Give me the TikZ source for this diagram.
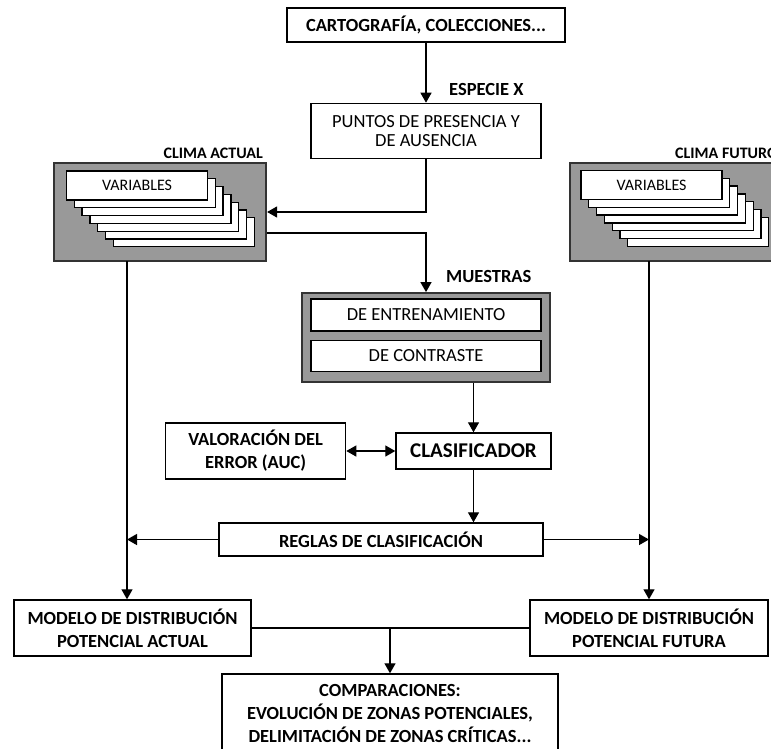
\documentclass[tikz,border=0pt]{standalone}
\usepackage{fontspec}
\setmainfont{Carlito}
\usepackage{xcolor}
\definecolor{grisCaja}{rgb}{0.6,0.6,0.6}
\definecolor{bordeCaja}{rgb}{0.2,0.2,0.2}
\usepackage{tikz}
\usetikzlibrary{arrows.meta}
\usetikzlibrary{positioning}
\tikzstyle{GRIS} = [fill=grisCaja, draw=bordeCaja, line width=2.2pt]
\tikzstyle{HOJA} = [fill=white, draw=black, line width=1.3pt, minimum width=141pt, minimum height=29pt]

\begin{document}
\begin{tikzpicture}[
            x=1pt, y=1pt,
            every node/.style={inner sep=0pt, align=center, font=\fontsize{18.5}{23}\selectfont},
            caja/.style={draw=black, fill=white, line width=1.4pt},
            negrita/.style={font=\fontsize{18.5}{23}\selectfont\bfseries},
            etiqueta/.style={font=\fontsize{16}{19}\selectfont\bfseries},
            flecha/.style={draw, line width=1.3pt, -{Triangle[length=10pt,width=11pt]}},
            doble/.style={draw, line width=1.3pt, {Triangle[length=10pt,width=11pt]}-{Triangle[length=10pt,width=11pt]}},
            linea/.style={draw, line width=1.3pt}
        ]
            \useasboundingbox (0,0) rectangle (771,-748);
            \clip (0,0) rectangle (771,-748);
            \node [caja, negrita, minimum width=278pt, minimum height=34pt] (carto) at (426,-25) {CARTOGRAFÍA, COLECCIONES...};
            \node [caja, minimum width=230pt, minimum height=55pt, font=\fontsize{18.5}{19.5}\selectfont, below=60pt of carto] (puntos) {PUNTOS DE PRESENCIA Y\\DE AUSENCIA};
            \node [negrita, anchor=west] (especie) at (449,-89) {ESPECIE X};
            \node [GRIS, minimum width=212pt, minimum height=98pt] (climaA) at (160,-212) {};
            \node [GRIS, minimum width=212pt, minimum height=98pt] (climaF) at (676,-212) {};
            \node [etiqueta, anchor=east] (lblA) at (263,-153) {CLIMA ACTUAL};
            \node [etiqueta, anchor=west] (lblF) at (675,-153) {CLIMA FUTURO};
            \foreach \i in {6,...,1} {
                \node [HOJA] (hojaA\i) at (137+7.8*\i,-185.5-7.8*\i) {};
                \node [HOJA] (hojaF\i) at (651.5+7.8*\i,-185-7.8*\i) {};
            }
            \node [HOJA, font=\fontsize{16}{19}\selectfont] (varA) at (137,-185.5) {VARIABLES};
            \node [HOJA, font=\fontsize{16}{19}\selectfont] (varF) at (651.5,-185) {VARIABLES};
            \node [GRIS, minimum width=248pt, minimum height=89pt, below=133pt of puntos] (muestras) {};
            \node [negrita, anchor=west] (lblM) at (446,-276) {MUESTRAS};
            \node [caja, minimum width=230pt, minimum height=32pt, below=6pt of muestras.north] (entren) {DE ENTRENAMIENTO};
            \node [caja, minimum width=230pt, minimum height=31pt, below=8pt of entren] (contraste) {DE CONTRASTE};
            \node [caja, minimum width=155pt, minimum height=36pt, font=\fontsize{21}{25}\selectfont\bfseries] (clasif) at (473.5,-451) {CLASIFICADOR};
            \node [caja, negrita, minimum width=180pt, minimum height=56pt, left=49pt of clasif] (valor) {VALORACIÓN DEL\\ERROR (AUC)};
            \node [caja, negrita, minimum width=324pt, minimum height=33pt] (reglas) at (381,-539.5) {REGLAS DE CLASIFICACIÓN};
            \node [caja, negrita, minimum width=237pt, minimum height=56pt] (modeloA) at (132.5,-628) {MODELO DE DISTRIBUCIÓN\\POTENCIAL ACTUAL};
            \node [caja, negrita, minimum width=238pt, minimum height=56pt] (modeloF) at (649,-628) {MODELO DE DISTRIBUCIÓN\\POTENCIAL FUTURA};
            \node [caja, negrita, minimum width=336pt, minimum height=78pt] (comp) at (390,-713) {COMPARACIONES:\\EVOLUCIÓN DE ZONAS POTENCIALES,\\DELIMITACIÓN DE ZONAS CRÍTICAS...};
            \coordinate (bajaA) at (127,-261);
            \coordinate (bajaF) at (649,-261);
            \draw [flecha] (carto) -- (puntos);
            \draw [flecha] (puntos.south) |- (climaA.east);
            \draw [flecha] ([yshift=-21pt]climaA.east) -| (muestras.north);
            \draw [flecha] (muestras.south -| clasif.north) -- (clasif.north);
            \draw [doble] (valor) -- (clasif);
            \draw [flecha] (clasif) -- (clasif |- reglas.north);
            \draw [flecha] (reglas.west) -- (reglas.west -| bajaA);
            \draw [flecha] (reglas.east) -- (reglas.east -| bajaF);
            \draw [flecha] (bajaA) -- (bajaA |- modeloA.north);
            \draw [flecha] (bajaF) -- (bajaF |- modeloF.north);
            \draw [linea] (modeloA) -- (modeloF);
            \draw [flecha] (modeloA.east -| comp.north) -- (comp.north);
        \end{tikzpicture}
\end{document}
